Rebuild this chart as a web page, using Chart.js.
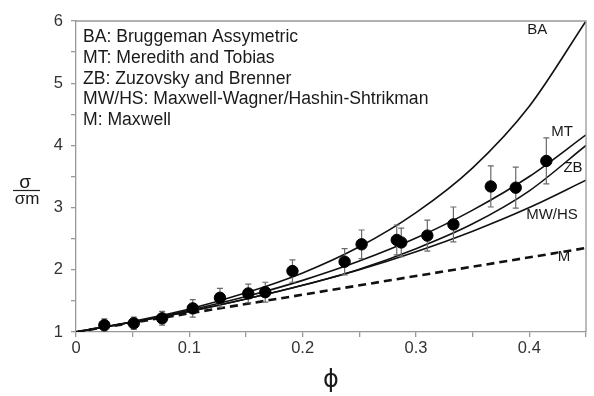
<!DOCTYPE html>
<html>
<head>
<meta charset="utf-8">
<script src="https://cdn.jsdelivr.net/npm/chart.js@4"></script>
<style>
  html, body { margin: 0; padding: 0; background: #fff; }
  #wrap { width: 594px; height: 396px; }
</style>
</head>
<body>
<div id="wrap"><canvas id="condChart" width="594" height="396"></canvas></div>
<script>
// model curves
const phiGrid   = [0, 0.05, 0.1, 0.15, 0.2, 0.25, 0.3, 0.35, 0.4, 0.45];
const baCurve   = [1, 1.17, 1.37, 1.63, 1.95, 2.37, 2.92, 3.64, 4.63, 6.0];
const mtCurve   = [1, 1.16, 1.35, 1.57, 1.83, 2.14, 2.51, 2.96, 3.50, 4.17];
const zbCurve   = [1, 1.16, 1.33, 1.53, 1.75, 2.01, 2.34, 2.74, 3.27, 4.0];
const mwhsCurve = [1, 1.16, 1.33, 1.53, 1.75, 2.00, 2.29, 2.62, 3.00, 3.44];
const mPhi      = [0, 0.45];
const mCurve    = [1, 2.35];

// measured points with error bars
const phiData   = [0.025, 0.051, 0.076, 0.103, 0.127, 0.152, 0.167, 0.191, 0.237, 0.252, 0.283, 0.287, 0.31, 0.333, 0.366, 0.388, 0.415];
const sigmaData = [1.11, 1.14, 1.22, 1.38, 1.55, 1.62, 1.64, 1.98, 2.13, 2.41, 2.48, 2.44, 2.55, 2.73, 3.34, 3.32, 3.75];
const errData   = [0.10, 0.10, 0.11, 0.14, 0.15, 0.15, 0.16, 0.18, 0.21, 0.23, 0.24, 0.23, 0.25, 0.28, 0.33, 0.33, 0.37];

const legendLines = [
  'BA: Bruggeman Assymetric',
  'MT: Meredith and Tobias',
  'ZB: Zuzovsky and Brenner',
  'MW/HS: Maxwell-Wagner/Hashin-Shtrikman',
  'M: Maxwell'
];
// curve tags placed at [phi, sigma]
const curveTags = [
  { text: 'BA', phi: 0.407, val: 5.86 },
  { text: 'MT', phi: 0.429, val: 4.22 },
  { text: 'ZB', phi: 0.4385, val: 3.64 },
  { text: 'MW/HS', phi: 0.42, val: 2.88 },
  { text: 'M', phi: 0.4305, val: 2.21 }
];

const FONT = '"Liberation Sans", Arial, sans-serif';
const toXY = (xs, ys) => xs.map((x, i) => ({ x: x, y: ys[i] }));

function curve(ys, dash, w) {
  return {
    type: 'line',
    data: toXY(phiGrid, ys),
    borderColor: '#111',
    borderWidth: w || 1.6,
    borderDash: dash || [],
    pointRadius: 0,
    cubicInterpolationMode: 'monotone',
    fill: false,
    order: 2
  };
}

const decorations = {
  id: 'decorations',
  beforeDatasetDraw(chart, args) {
    if (args.index !== 5) return;
    const { ctx, scales: { x, y } } = chart;
    ctx.save();
    ctx.strokeStyle = '#6a6a6a';
    ctx.lineWidth = 1.2;
    phiData.forEach((p, i) => {
      const px = x.getPixelForValue(p);
      const top = y.getPixelForValue(sigmaData[i] + errData[i]);
      const bot = y.getPixelForValue(sigmaData[i] - errData[i]);
      ctx.beginPath();
      ctx.moveTo(px, top); ctx.lineTo(px, bot);
      ctx.moveTo(px - 3, top); ctx.lineTo(px + 3, top);
      ctx.moveTo(px - 3, bot); ctx.lineTo(px + 3, bot);
      ctx.stroke();
    });
    ctx.restore();
  },
  afterDraw(chart) {
    const { ctx, chartArea: a, scales: { x, y } } = chart;
    ctx.save();
    // frame on top and right
    ctx.strokeStyle = '#999';
    ctx.lineWidth = 1.3;
    ctx.beginPath();
    ctx.moveTo(a.left, a.top); ctx.lineTo(a.right, a.top); ctx.lineTo(a.right, a.bottom);
    ctx.stroke();

    // legend text block
    ctx.fillStyle = '#1a1a1a';
    ctx.font = '17.6px ' + FONT;
    ctx.textAlign = 'left';
    ctx.textBaseline = 'middle';
    legendLines.forEach((t, i) => ctx.fillText(t, a.left + 7, a.top + 16.5 + i * 20.6));

    // curve tags
    ctx.font = '15px ' + FONT;
    ctx.textAlign = 'center';
    curveTags.forEach(c => {
      const px = x.getPixelForValue(c.phi), py = y.getPixelForValue(c.val);
      if (c.text === 'M') {
        const w = ctx.measureText('M').width;
        ctx.fillStyle = '#fff';
        ctx.fillRect(px - w / 2 - 1, py - 3, w + 2, 6);
        ctx.fillStyle = '#1a1a1a';
      }
      ctx.fillText(c.text, px, py);
    });

    // axis titles
    ctx.fillStyle = '#1a1a1a';
    ctx.font = '24px "DejaVu Sans", sans-serif';
    ctx.fillText('\u03d5', (a.left + a.right) / 2, 381);

    ctx.font = '19px ' + FONT;
    ctx.textBaseline = 'alphabetic';
    ctx.fillText('\u03c3', 25, 188);
    ctx.font = '17px ' + FONT;
    ctx.fillText('\u03c3m', 27, 204);
    ctx.strokeStyle = '#222';
    ctx.lineWidth = 1.2;
    ctx.beginPath();
    ctx.moveTo(13, 190.5); ctx.lineTo(40, 190.5);
    ctx.stroke();
    ctx.restore();
  }
};

const ctx = document.getElementById('condChart').getContext('2d');
const condChart = new Chart(ctx, {
  data: {
    datasets: [
      curve(baCurve),
      curve(mtCurve),
      curve(zbCurve),
      curve(mwhsCurve),
      {
        type: 'line',
        data: toXY(mPhi, mCurve),
        borderColor: '#111',
        borderWidth: 2.6,
        borderDash: [8, 5],
        pointRadius: 0,
        fill: false,
        order: 2
      },
      {
        type: 'scatter',
        data: toXY(phiData, sigmaData),
        backgroundColor: '#000',
        borderColor: '#000',
        pointRadius: 5.7,
        order: 1
      }
    ]
  },
  options: {
    responsive: false,
    devicePixelRatio: 1,
    animation: false,
    layout: { padding: { left: 0, right: 8, top: 21, bottom: 0 } },
    plugins: {
      legend: { display: false },
      tooltip: { enabled: false }
    },
    scales: {
      x: {
        type: 'linear',
        min: 0,
        max: 0.45,
        afterFit: s => { s.height = 64; },
        grid: { drawOnChartArea: false, tickLength: 5, color: '#999', lineWidth: 1.3 },
        border: { color: '#999', width: 1.3 },
        ticks: {
          stepSize: 0.05,
          autoSkip: false,
          maxRotation: 0,
          padding: 2,
          color: '#333',
          font: { family: FONT, size: 16.5 },
          callback: v => {
            const r = Math.round(v * 100);
            return r % 10 === 0 ? String(r / 100) : '';
          }
        }
      },
      y: {
        type: 'linear',
        min: 1,
        max: 6,
        afterFit: s => { s.width = 76; },
        grid: { drawOnChartArea: false, tickLength: 5, color: '#999', lineWidth: 1.3 },
        border: { color: '#999', width: 1.3 },
        ticks: {
          stepSize: 0.5,
          autoSkip: false,
          padding: 8,
          color: '#333',
          font: { family: FONT, size: 16.5 },
          callback: v => Number.isInteger(v) ? String(v) : ''
        }
      }
    }
  },
  plugins: [decorations]
});
</script>
</body>
</html>
